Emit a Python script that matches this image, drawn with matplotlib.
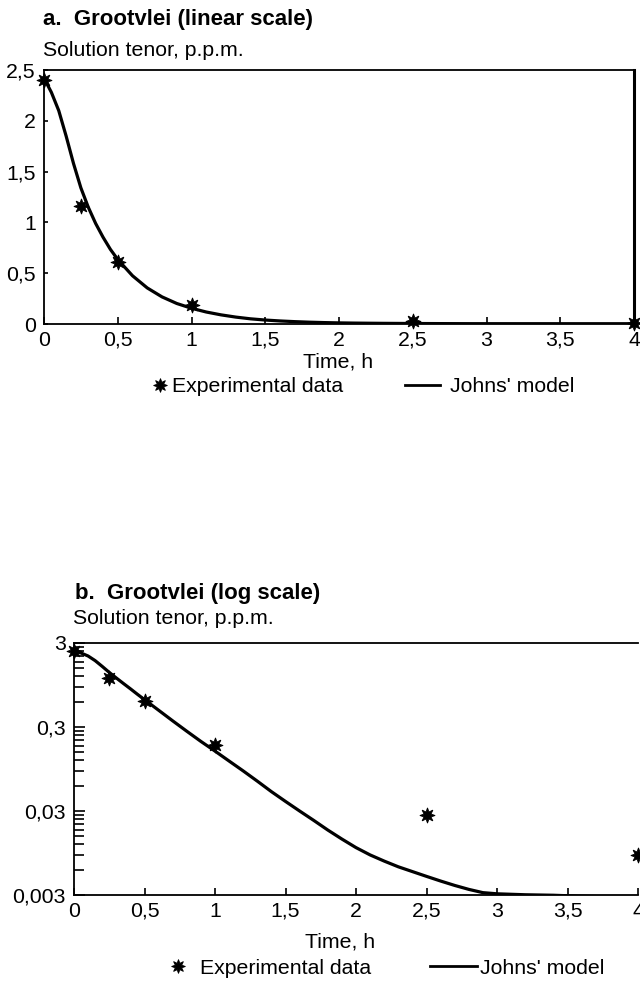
import matplotlib
matplotlib.use("Agg")
import matplotlib.pyplot as plt
from matplotlib.lines import Line2D
from matplotlib.ticker import FixedLocator, NullFormatter

plt.rcParams['font.family'] = ['Liberation Sans', 'DejaVu Sans']

# ---------------- data ----------------
t_exp = [0.0, 0.25, 0.5, 1.0, 2.5, 4.0]
c_exp = [2.4, 1.16, 0.615, 0.185, 0.027, 0.009]

t_model = [0.0, 0.05, 0.1, 0.15, 0.2, 0.25, 0.3, 0.35, 0.4, 0.45, 0.5, 0.6, 0.7,
           0.8, 0.9, 1.0, 1.1, 1.2, 1.3, 1.4, 1.5, 1.6, 1.7, 1.8, 1.9, 2.0, 2.1,
           2.2, 2.3, 2.4, 2.5, 2.6, 2.7, 2.8, 2.9, 3.0, 3.2, 3.4, 3.6, 4.0]
c_model = [2.42, 2.28, 2.1, 1.85, 1.58, 1.34, 1.15, 0.99, 0.855, 0.735, 0.635, 0.475,
           0.355, 0.267, 0.202, 0.155, 0.118, 0.09, 0.068, 0.051, 0.039, 0.030,
           0.0232, 0.0178, 0.0139, 0.0110, 0.0090, 0.0076, 0.0065, 0.0057, 0.0050,
           0.0044, 0.0039, 0.0035, 0.0032, 0.0031, 0.00302, 0.00298, 0.0029, 0.0028]

x_ticks = [0, 0.5, 1, 1.5, 2, 2.5, 3, 3.5, 4]
x_labels = ['0', '0,5', '1', '1,5', '2', '2,5', '3', '3,5', '4']
ya_ticks = [0, 0.5, 1, 1.5, 2, 2.5]
ya_labels = ['0', '0,5', '1', '1,5', '2', '2,5']
yb_ticks = [0.003, 0.03, 0.3, 3]
yb_labels = ['0,003', '0,03', '0,3', '3']

title_a = "a.  Grootvlei (linear scale)"
title_b = "b.  Grootvlei (log scale)"
ylab = "Solution tenor, p.p.m."
xlab = "Time, h"
leg_exp = "Experimental data"
leg_mod = "Johns' model"

# ---------------- figure ----------------
W, H = 640, 988
fig = plt.figure(figsize=(6.4, 9.88), dpi=100)

def fx(px):
    return px / W

def fy(py):
    return 1 - py / H

FS = 15.3
star = (8, 1, 0)

# panel a
axa = fig.add_axes([fx(44), fy(324), fx(634) - fx(44), fy(70) - fy(324)])
axa.plot(t_model, c_model, color='black', lw=2.3, solid_capstyle='round', solid_joinstyle='round')
axa.plot(t_exp, c_exp, ls='none', marker=star, ms=11, color='black', mew=0.6, clip_on=False, zorder=5)
axa.set_xlim(0, 4)
axa.set_ylim(0, 2.5)
axa.set_xticks(x_ticks)
axa.set_xticklabels(x_labels)
axa.set_yticks(ya_ticks)
axa.set_yticklabels(ya_labels)
axa.tick_params(axis='both', direction='in', labelsize=FS, width=1.2, color='black')
axa.tick_params(axis='x', length=5, pad=5)
axa.tick_params(axis='y', length=3, pad=6)
for s in axa.spines.values():
    s.set_linewidth(1.3)
axa.spines['right'].set_linewidth(2.2)
axa.set_xlabel(xlab, fontsize=FS)
axa.xaxis.set_label_coords((338 - 44) / 590, -38 / 254)
axa.xaxis.label.set_va('center')

fig.text(fx(43), fy(19), title_a, fontsize=16, fontweight='bold', va='center', ha='left')
fig.text(fx(43), fy(50), ylab, fontsize=FS, va='center', ha='left')

# legends panel a
h_exp = Line2D([], [], ls='none', marker=star, ms=10, mew=0.6, color='black')
h_mod = Line2D([], [], color='black', lw=2)
la1 = fig.legend([h_exp], [leg_exp], loc='center left', bbox_to_anchor=(fx(154.6), fy(387)),
                 frameon=False, fontsize=FS, handlelength=0.5, handletextpad=0.31,
                 borderpad=0, borderaxespad=0)
la2 = fig.legend([h_mod], [leg_mod], loc='center left', bbox_to_anchor=(fx(405), fy(387)),
                 frameon=False, fontsize=FS, handlelength=1.63, handletextpad=0.47,
                 borderpad=0, borderaxespad=0)

# panel b
axb = fig.add_axes([fx(74), fy(895), fx(638) - fx(74), fy(643) - fy(895)])
axb.plot(t_model, c_model, color='black', lw=2.3, solid_capstyle='round', solid_joinstyle='round')
axb.plot(t_exp, c_exp, ls='none', marker=star, ms=11, color='black', mew=0.6, clip_on=False, zorder=5)
axb.set_yscale('log')
axb.set_xlim(0, 4)
axb.set_ylim(0.003, 3)
axb.set_xticks(x_ticks)
axb.set_xticklabels(x_labels)
axb.yaxis.set_major_locator(FixedLocator(yb_ticks))
axb.set_yticklabels(yb_labels)
minor = [d * k for d in (0.003, 0.03, 0.3) for k in range(2, 10)]
axb.yaxis.set_minor_locator(FixedLocator(minor))
axb.yaxis.set_minor_formatter(NullFormatter())
axb.tick_params(axis='both', which='both', direction='in', labelsize=FS, width=1.2, color='black')
axb.tick_params(axis='x', length=5, pad=5)
axb.tick_params(axis='y', which='major', length=8, pad=6)
axb.tick_params(axis='y', which='minor', length=7)
for s in axb.spines.values():
    s.set_linewidth(1.3)
axb.spines['right'].set_visible(False)
axb.set_xlabel(xlab, fontsize=FS)
axb.xaxis.set_label_coords((340 - 74) / 564, -47 / 252)
axb.xaxis.label.set_va('center')

fig.text(fx(75), fy(593), title_b, fontsize=16, fontweight='bold', va='center', ha='left')
fig.text(fx(73), fy(619), ylab, fontsize=FS, va='center', ha='left')

lb1 = fig.legend([h_exp], [leg_exp], loc='center left', bbox_to_anchor=(fx(172.6), fy(968)),
                 frameon=False, fontsize=FS, handlelength=0.5, handletextpad=0.77,
                 borderpad=0, borderaxespad=0)
lb2 = fig.legend([h_mod], [leg_mod], loc='center left', bbox_to_anchor=(fx(430), fy(968)),
                 frameon=False, fontsize=FS, handlelength=2.23, handletextpad=0.1,
                 borderpad=0, borderaxespad=0)

fig.savefig('out.png', dpi=100, facecolor='white')
